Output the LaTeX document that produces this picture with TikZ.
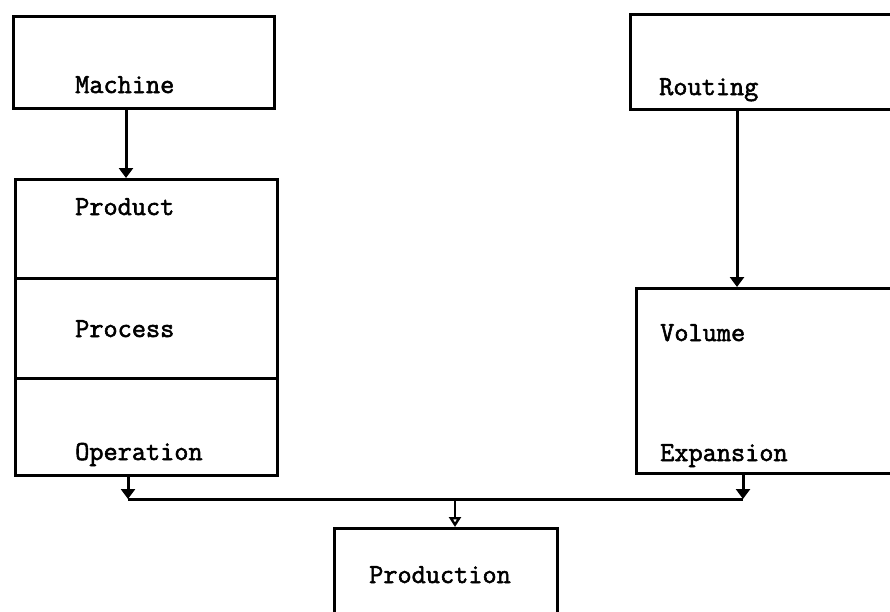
\documentclass[tikz,border=0pt]{standalone}
\usepackage{fontspec}
\usetikzlibrary{arrows.meta}
\newfontfamily\boxfont[FakeBold=2]{Latin Modern Mono}
\begin{document}
\begin{tikzpicture}[x=1pt,y=-1pt,
  frame/.style={draw=black,line width=3pt,rectangle,inner sep=0pt,anchor=north west},
  lbl/.style={anchor=base west,inner sep=0pt,font=\boxfont\fontsize{27.5}{30}\selectfont},
  link/.style={line width=3pt,-{Triangle[width=14pt,length=10pt]}},
  openlink/.style={line width=2.6pt,-{Triangle[open,width=12pt,length=10pt,line width=2.4pt]}}]
\clip (0,0) rectangle (890,611);
\fill[white] (0,0) rectangle (890,611);

% left column
\node[frame,minimum width=261pt,minimum height=92pt] (machine) at (12,15) {};
\node[lbl] (tmachine) at (75,93) {Machine};

\node[frame,minimum width=262pt,minimum height=99pt] (product) at (14,178) {};
\node[frame,minimum width=262pt,minimum height=100pt] (process) at (14,277) {};
\node[frame,minimum width=262pt,minimum height=97pt] (operation) at (14,377) {};
\node[lbl] (tproduct) at (75,215) {Product};
\node[lbl] (tprocess) at (75,337) {Process};
\node[lbl] (toperation) at (75,460) {Operation};

% right column
\node[frame,minimum width=300pt,minimum height=95pt] (routing) at (629,13) {};
\node[lbl] (trouting) at (659,95) {Routing};

\node[frame,minimum width=300pt,minimum height=185pt] (volume) at (635,287) {};
\node[lbl] (tvolume) at (660,341) {Volume};
\node[lbl] (texpansion) at (660,461) {Expansion};

% bottom
\node[frame,minimum width=223pt,minimum height=120pt] (production) at (333,527) {};
\node[lbl] (tproduction) at (369,583) {Production};

% connectors
\coordinate (busL) at (128,499);
\coordinate (busR) at (743,499);
\coordinate (busM) at (455,499);

\draw[link] (machine.south west -| 126,0) -- (product.north west -| 126,0);
\draw[link] (routing.south west -| 737,0) -- (volume.north west -| 737,0);
\draw[link] (operation.south west -| busL) -- (busL);
\draw[link] (volume.south west -| busR) -- (busR);
\draw[line width=3pt] (busL) -- (busR);
\draw[openlink] (busM) -- (production.north west -| busM);
\end{tikzpicture}
\end{document}
